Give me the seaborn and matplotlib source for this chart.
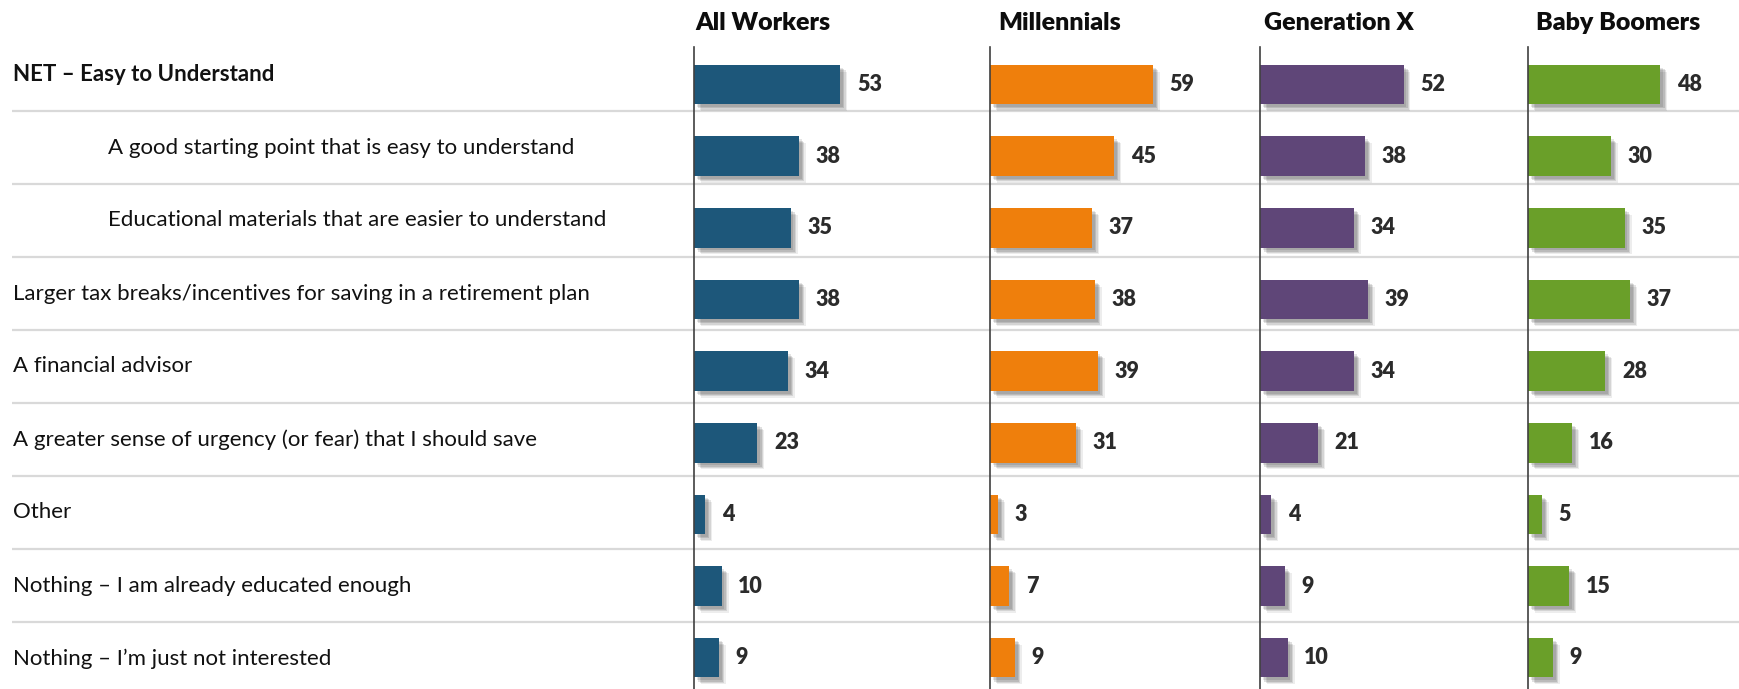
import matplotlib
matplotlib.use("Agg")
import matplotlib.pyplot as plt
import matplotlib.patheffects as pe
import seaborn as sns
import pandas as pd

# ---------------- data ----------------
categories = [
    "NET – Easy to Understand",
    "A good starting point that is easy to understand",
    "Educational materials that are easier to understand",
    "Larger tax breaks/incentives for saving in a retirement plan",
    "A financial advisor",
    "A greater sense of urgency (or fear) that I should save",
    "Other",
    "Nothing – I am already educated enough",
    "Nothing – I’m just not interested",
]
groups = ["All Workers", "Millennials", "Generation X", "Baby Boomers"]
all_workers = [53, 38, 35, 38, 34, 23, 4, 10, 9]
millennials = [59, 45, 37, 38, 39, 31, 3, 7, 9]
generation_x = [52, 38, 34, 39, 34, 21, 4, 9, 10]
baby_boomers = [48, 30, 35, 37, 28, 16, 5, 15, 9]
series = [all_workers, millennials, generation_x, baby_boomers]
colors = ["#1D577A", "#EF7F0C", "#5F4678", "#6A9F29"]
indented = [False, True, True, False, False, False, False, False, False]
bold_rows = [True, False, False, False, False, False, False, False, False]

# ---------------- layout (pixels) ----------------
W, H = 1739, 689
sns.set_style("white")
plt.rcParams["font.family"] = ["Lato", "DejaVu Sans"]

fig = plt.figure(figsize=(W / 100, H / 100), dpi=100)

# background "table": labels + separators
bg = fig.add_axes([0, 0, 1, 1], zorder=0)
bg.set_xlim(0, W)
bg.set_ylim(H, 0)
bg.axis("off")
row_top, row_h = 38, 73
for i, cat in enumerate(categories):
    yc = row_top + row_h * (i + 0.5)
    bg.text(108 if indented[i] else 13, yc, cat, fontsize=16,
            fontweight="bold" if bold_rows[i] else "normal",
            color="#111111", va="center", ha="left")
for i in range(1, len(categories)):
    y = row_top + row_h * i
    bg.plot([12, W], [y, y], color="#D9D9D9", lw=1.6, solid_capstyle="butt")

# bar panels
axis_x = [694, 990, 1260, 1528]
title_x = [695, 998, 1264, 1536]
px_per_unit = 2.76
panel_w = 205
bar0_c, pitch = 84.5, 71.66
ax_top = 47
ylim_top = -(bar0_c - ax_top) / pitch
ylim_bot = (H - bar0_c) / pitch

for k, (grp, vals) in enumerate(zip(groups, series)):
    ax = fig.add_axes([axis_x[k] / W, 0, panel_w / W, (H - ax_top) / H], zorder=2)
    ax.patch.set_alpha(0)
    df = pd.DataFrame({"category": categories, "value": vals})
    sns.barplot(data=df, x="value", y="category", orient="h", color=colors[k],
                saturation=1, width=0.55, linewidth=0, ax=ax)
    ax.set_ylim(ylim_bot, ylim_top)
    ax.set_xlim(0, panel_w / px_per_unit)
    for p in ax.patches:
        p.set_path_effects([
            pe.SimplePatchShadow(offset=(5, -5), shadow_rgbFace="#000000", alpha=0.07),
            pe.SimplePatchShadow(offset=(4, -4), shadow_rgbFace="#000000", alpha=0.10),
            pe.SimplePatchShadow(offset=(3, -3), shadow_rgbFace="#000000", alpha=0.12),
            pe.SimplePatchShadow(offset=(2, -2), shadow_rgbFace="#000000", alpha=0.10),
            pe.Normal(),
        ])
    ax.bar_label(ax.containers[0], labels=[str(v) for v in vals], padding=12,
                 fontsize=15.5, fontweight="heavy", color="#2B2B2B")
    for s in ["top", "right", "bottom"]:
        ax.spines[s].set_visible(False)
    ax.spines["left"].set_color("#404040")
    ax.spines["left"].set_linewidth(1.2)
    ax.set_xticks([])
    ax.set_yticks([])
    ax.set_xlabel("")
    ax.set_ylabel("")
    fig.text(title_x[k] / W, 1 - 23 / H, grp, fontsize=18, fontweight="heavy",
             color="#0D0D0D", ha="left", va="center")

fig.savefig("out.png", dpi=100, facecolor="white")
